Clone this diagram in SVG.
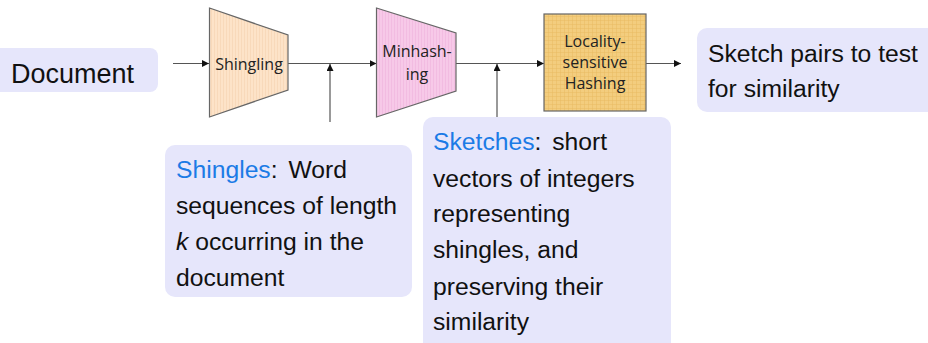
<svg xmlns="http://www.w3.org/2000/svg" width="928" height="343" viewBox="0 0 928 343">
<style>
.box{fill:#e6e6fb}
.t{font-family:"Liberation Sans",Arial,sans-serif;font-size:24.7px;fill:#111}
.hl{fill:#1b7be6}
.n{font-family:"Open Sans","DejaVu Sans",sans-serif;font-size:16px;fill:#222;text-anchor:middle}
.shape{stroke:#666;stroke-width:1.2}
.c{stroke:#555;stroke-width:1.2;fill:none}
</style>
<defs>
<marker id="ah" viewBox="0 0 10 10" refX="10" refY="5" markerWidth="7" markerHeight="7" markerUnits="userSpaceOnUse" orient="auto">
<path d="M0,0 L10,5 L0,10 z" fill="#111"/>
</marker>
<pattern id="vs1" width="3" height="10" patternUnits="userSpaceOnUse">
<rect width="3" height="10" fill="#fde3c8"/>
<line x1="1.5" y1="0" x2="1.5" y2="10" stroke="#f5d2b0" stroke-width="0.6"/>
</pattern>
<pattern id="vs2" width="3" height="10" patternUnits="userSpaceOnUse">
<rect width="3" height="10" fill="#f7c9e8"/>
<line x1="1.5" y1="0" x2="1.5" y2="10" stroke="#eeb4dc" stroke-width="0.6"/>
</pattern>
<pattern id="grid" width="4" height="4" patternUnits="userSpaceOnUse">
<rect width="4" height="4" fill="#f3cd7e"/>
<path d="M0,0.5 H4 M0.5,0 V4" stroke="#e8bb62" stroke-width="0.5"/>
</pattern>
</defs>

<g id="connectors">
<line class="c" x1="173" y1="63.5" x2="209" y2="63.5" marker-end="url(#ah)"/>
<line class="c" x1="288" y1="63.5" x2="376.5" y2="63.5" marker-end="url(#ah)"/>
<line class="c" x1="456" y1="63.5" x2="544" y2="63.5" marker-end="url(#ah)"/>
<line class="c" x1="646" y1="63.5" x2="681" y2="63.5" marker-end="url(#ah)"/>
<line class="c" x1="330" y1="122" x2="330" y2="64" marker-end="url(#ah)"/>
<line class="c" x1="497" y1="117" x2="497" y2="64" marker-end="url(#ah)"/>
</g>

<g id="document">
<rect class="box" x="-10" y="48" width="168" height="44" rx="8"/>
<text class="t" x="11" y="82.5" style="font-size:27px">Document</text>
</g>

<g id="shingling">
<polygon class="shape" fill="url(#vs1)" points="209.5,8 288,35 288,90 209.5,117"/>
<text class="n" x="249" y="70">Shingling</text>
</g>

<g id="minhashing">
<polygon class="shape" fill="url(#vs2)" points="376.5,8 456,33 456,91 376.5,117"/>
<text class="n" x="417" y="57">Minhash-</text>
<text class="n" x="417" y="80">ing</text>
</g>

<g id="lsh">
<rect class="shape" fill="url(#grid)" x="544" y="14" width="102" height="97"/>
<text class="n" x="595" y="47">Locality-</text>
<text class="n" x="595" y="68">sensitive</text>
<text class="n" x="595" y="89">Hashing</text>
</g>

<g id="sketch-pairs">
<rect class="box" x="697" y="28" width="250" height="84" rx="10"/>
<text class="t" x="708" y="62">Sketch pairs to test</text>
<text class="t" x="708" y="97">for similarity</text>
</g>

<g id="shingles">
<rect class="box" x="165" y="145" width="247" height="152" rx="10"/>
<text class="t" x="176" y="178"><tspan class="hl">Shingles</tspan>:<tspan dx="4"> Word</tspan></text>
<text class="t" x="176" y="214">sequences of length</text>
<text class="t" x="176" y="250"><tspan font-style="italic">k</tspan> occurring in the</text>
<text class="t" x="176" y="286">document</text>
</g>

<g id="sketches">
<rect class="box" x="423" y="117" width="248" height="236" rx="10"/>
<text class="t" x="433" y="150"><tspan class="hl">Sketches</tspan>:<tspan dx="4"> short</tspan></text>
<text class="t" x="433" y="186.5">vectors of integers</text>
<text class="t" x="433" y="222">representing</text>
<text class="t" x="433" y="258">shingles, and</text>
<text class="t" x="433" y="295">preserving their</text>
<text class="t" x="433" y="330">similarity</text>
</g>
</svg>
